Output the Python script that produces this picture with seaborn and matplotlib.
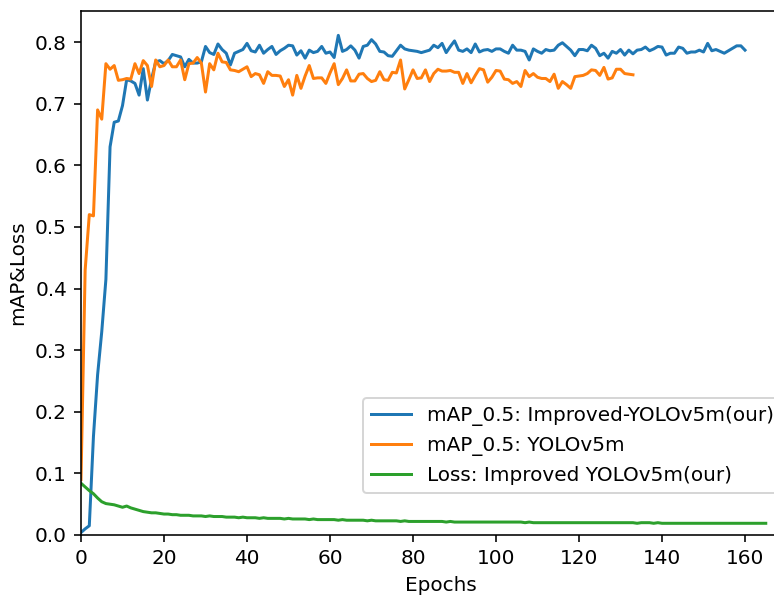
import matplotlib
matplotlib.use("Agg")
import matplotlib.pyplot as plt
import seaborn as sns
import numpy as np

# mAP_0.5 of the improved model, epochs 0..160
map_improved = [
    0.004, 0.010, 0.015, 0.160, 0.260, 0.330, 0.415, 0.630, 0.670, 0.672,
    0.697, 0.739, 0.737, 0.733, 0.714, 0.757, 0.706, 0.740, 0.768, 0.770,
    0.765, 0.770, 0.780, 0.778, 0.776, 0.760, 0.772, 0.766, 0.766, 0.768,
    0.793, 0.783, 0.780, 0.797, 0.788, 0.782, 0.763, 0.782, 0.785, 0.788,
    0.798, 0.786, 0.784, 0.795, 0.782, 0.788, 0.793, 0.780, 0.786, 0.790,
    0.795, 0.794, 0.779, 0.786, 0.774, 0.787, 0.783, 0.785, 0.793, 0.782,
    0.784, 0.775, 0.811, 0.785, 0.788, 0.794, 0.787, 0.774, 0.793, 0.795,
    0.804, 0.797, 0.785, 0.784, 0.778, 0.777, 0.786, 0.795, 0.789, 0.787,
    0.786, 0.785, 0.783, 0.785, 0.787, 0.795, 0.791, 0.798, 0.783, 0.793,
    0.802, 0.787, 0.785, 0.789, 0.783, 0.797, 0.784, 0.787, 0.788, 0.785,
    0.789, 0.789, 0.785, 0.782, 0.795, 0.787, 0.787, 0.785, 0.771, 0.789,
    0.785, 0.782, 0.788, 0.786, 0.787, 0.795, 0.799, 0.793, 0.787, 0.778,
    0.788, 0.788, 0.786, 0.795, 0.790, 0.778, 0.782, 0.774, 0.785, 0.782,
    0.788, 0.779, 0.787, 0.781, 0.787, 0.788, 0.792, 0.786, 0.789, 0.793,
    0.792, 0.779, 0.782, 0.782, 0.792, 0.790, 0.782, 0.784, 0.784, 0.787,
    0.784, 0.798, 0.786, 0.788, 0.785, 0.782, 0.786, 0.790, 0.794, 0.794,
    0.787,
]

# mAP_0.5 of the baseline YOLOv5m, epochs 0..133
map_yolov5m = [
    0.090, 0.430, 0.520, 0.518, 0.690, 0.675, 0.765, 0.756, 0.762, 0.738,
    0.739, 0.741, 0.740, 0.765, 0.749, 0.770, 0.762, 0.728, 0.771, 0.760,
    0.762, 0.771, 0.760, 0.760, 0.771, 0.739, 0.765, 0.766, 0.775, 0.766,
    0.719, 0.765, 0.755, 0.782, 0.768, 0.767, 0.755, 0.754, 0.752, 0.756,
    0.760, 0.744, 0.749, 0.747, 0.733, 0.752, 0.746, 0.746, 0.745, 0.728,
    0.739, 0.714, 0.746, 0.725, 0.745, 0.762, 0.741, 0.742, 0.742, 0.733,
    0.750, 0.765, 0.731, 0.741, 0.755, 0.737, 0.737, 0.748, 0.749, 0.741,
    0.736, 0.738, 0.752, 0.739, 0.738, 0.751, 0.750, 0.771, 0.724, 0.739,
    0.755, 0.741, 0.742, 0.755, 0.736, 0.749, 0.756, 0.753, 0.753, 0.754,
    0.751, 0.751, 0.733, 0.749, 0.734, 0.746, 0.757, 0.755, 0.735, 0.743,
    0.754, 0.753, 0.740, 0.739, 0.733, 0.736, 0.728, 0.754, 0.744, 0.749,
    0.743, 0.741, 0.741, 0.736, 0.748, 0.725, 0.736, 0.731, 0.725, 0.744,
    0.745, 0.746, 0.749, 0.755, 0.754, 0.746, 0.759, 0.740, 0.742, 0.756,
    0.756, 0.749, 0.748, 0.747,
]

# training loss of the improved model, epochs 0..165
loss_improved = [
    0.084, 0.078, 0.072, 0.067, 0.060, 0.054, 0.051, 0.050, 0.049, 0.047,
    0.045, 0.047, 0.044, 0.042, 0.040, 0.038, 0.037, 0.036, 0.036, 0.035,
    0.034, 0.034, 0.033, 0.033, 0.032, 0.032, 0.032, 0.031, 0.031, 0.031,
    0.030, 0.031, 0.030, 0.030, 0.030, 0.029, 0.029, 0.029, 0.028, 0.029,
    0.028, 0.028, 0.028, 0.027, 0.028, 0.027, 0.027, 0.027, 0.027, 0.026,
    0.027, 0.026, 0.026, 0.026, 0.026, 0.025, 0.026, 0.025, 0.025, 0.025,
    0.025, 0.025, 0.024, 0.025, 0.024, 0.024, 0.024, 0.024, 0.024, 0.023,
    0.024, 0.023, 0.023, 0.023, 0.023, 0.023, 0.023, 0.022, 0.023, 0.022,
    0.022, 0.022, 0.022, 0.022, 0.022, 0.022, 0.022, 0.022, 0.021, 0.022,
    0.021, 0.021, 0.021, 0.021, 0.021, 0.021, 0.021, 0.021, 0.021, 0.021,
    0.021, 0.021, 0.021, 0.021, 0.021, 0.021, 0.021, 0.020, 0.021, 0.020,
    0.020, 0.020, 0.020, 0.020, 0.020, 0.020, 0.020, 0.020, 0.020, 0.020,
    0.020, 0.020, 0.020, 0.020, 0.020, 0.020, 0.020, 0.020, 0.020, 0.020,
    0.020, 0.020, 0.020, 0.020, 0.019, 0.020, 0.020, 0.020, 0.019, 0.020,
    0.019, 0.019, 0.019, 0.019, 0.019, 0.019, 0.019, 0.019, 0.019, 0.019,
    0.019, 0.019, 0.019, 0.019, 0.019, 0.019, 0.019, 0.019, 0.019, 0.019,
    0.019, 0.019, 0.019, 0.019, 0.019, 0.019,
]

labels = ["mAP_0.5: Improved-YOLOv5m(our)", "mAP_0.5: YOLOv5m", "Loss: Improved YOLOv5m(our)"]

dpi = 144
fig = plt.figure(figsize=(774 / dpi, 596 / dpi), dpi=dpi)
ax = fig.add_axes([81 / 774, 61 / 596, 719 / 774, 524.5 / 596])

for ys, lab in zip([map_improved, map_yolov5m, loss_improved], labels):
    sns.lineplot(x=np.arange(len(ys)), y=ys, label=lab, ax=ax)

ax.set_xlim(left=0)
ax.set_ylim(bottom=0)
ax.set_xlabel("Epochs")
ax.set_ylabel("mAP&Loss")
ax.legend(loc="lower left", bbox_to_anchor=(0.3926, 0.0795), borderaxespad=0)

fig.savefig("out.png", dpi=dpi)
